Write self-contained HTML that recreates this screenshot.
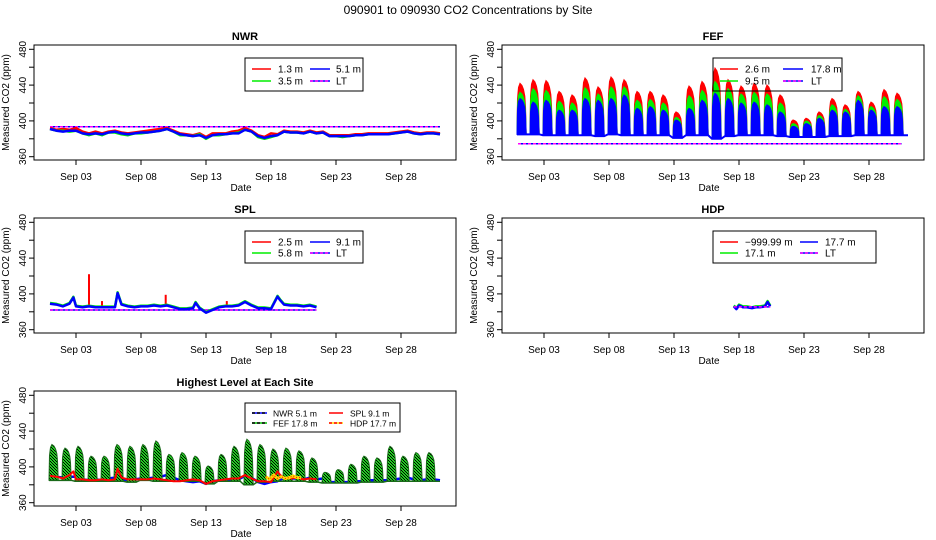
<!DOCTYPE html>
<html><head><meta charset="utf-8"><style>
html,body{margin:0;padding:0;background:#fff}
svg{display:block;font-family:"Liberation Sans",Arial,sans-serif}
</style></head><body>
<svg id="c" width="936" height="540" viewBox="0 0 936 540" xmlns="http://www.w3.org/2000/svg">
<defs>
<pattern id="chk" width="3" height="3" patternUnits="userSpaceOnUse"><rect width="3" height="3" fill="#22cc22"/><rect width="1" height="1" fill="#000"/><rect x="1" y="1" width="1" height="1" fill="#000"/><rect x="2" y="2" width="1" height="1" fill="#000"/></pattern>
</defs>
<text x="468" y="14" text-anchor="middle" font-size="12">090901  to  090930 CO2 Concentrations by Site</text>
</svg>
<script>
// ---------- data ----------
const tickDays=[3,8,13,18,23,28];
const tickLabels=["Sep 03","Sep 08","Sep 13","Sep 18","Sep 23","Sep 28"];
const yTicks=[360,380,400,420,440,460,480];
const yLabels=[360,400,440,480];
// NWR (daily values, day-of-month)
const nwrDays=[1,1.5,2,2.5,3,3.5,4,4.5,5,5.5,6,6.5,7,7.5,8,8.5,9,9.5,10,10.5,11,11.5,12,12.5,13,13.5,14,14.5,15,15.5,16,16.5,17,17.5,18,18.5,19,19.5,20,20.5,21,21.5,22,22.5,23,23.5,24,24.5,25,25.5,26,26.5,27,27.5,28,28.5,29,29.5,30,30.5,31];
const nwrBlue=[391,389,388,389,389,386,385,386,385,387,388,386,385,386,387,387,388,389,391,388,385,384,383,384,381,384,385,385,386,386,390,388,383,381,383,384,388,387,387,386,388,386,387,383,383,383,383,384,384,385,385,385,385,386,387,388,386,385,386,386,385];
const nwrRed=[392,390,391,390,392,388,386,388,386,388,389,387,386,387,388,389,390,391,392,389,386,385,384,386,382,386,386,386,388,389,392,389,384,382,386,385,389,388,388,387,389,387,388,384,384,384,384,385,385,386,386,386,386,387,388,389,387,386,387,387,386];
const nwrGreen=[391,389,389,388,389,386,384,386,384,387,387,385,384,386,386,387,388,389,391,388,384,384,383,385,380,384,384,385,386,387,390,388,382,380,382,384,388,387,387,386,388,386,387,383,383,382,383,384,384,385,385,385,385,386,387,388,386,385,386,386,385];
const nwrLT=393.5;
// FEF nightly cycle peaks (one per day), base level
const fefDays=[1,2,3,4,5,6,7,8,9,10,11,12,13,14,15,16,17,18,19,20,21,22,23,24,25,26,27,28,29,30];
const fefRed=[442,446,445,433,429,448,438,449,446,433,433,429,410,439,444,459,446,439,442,440,429,401,403,410,425,418,433,421,435,431];
const fefGreen=[432,436,434,422,420,437,430,438,438,423,424,420,404,428,434,444,436,430,432,430,420,397,400,406,418,413,428,416,427,424];
const fefBlue=[425,421,423,412,412,425,423,425,429,414,416,412,401,414,423,431,425,420,421,418,410,394,397,403,412,410,423,412,416,416];
const fefBase=[385,385,384,384,384,384,383,385,384,384,384,384,381,384,384,380,383,384,384,384,383,382,382,382,383,383,384,384,384,384];
const fefLT=374.5;
// SPL
const splDays=[1,1.5,2,2.5,2.8,3,3.5,4,4.5,5,5.5,6,6.2,6.5,7,7.5,8,8.5,9,9.5,10,10.5,11,11.5,12,12.2,12.5,13,13.5,14,14.5,15,15.5,16,16.5,17,17.5,18,18.5,18.7,19,19.5,20,20.5,21,21.5];
const splBlue=[389,388,386,389,396,386,385,386,385,385,385,385,401,388,386,385,386,386,387,386,387,385,383,383,384,390,384,379,382,385,386,386,387,391,387,384,384,383,397,393,388,387,387,386,387,385];
const splRedSpikeDays=[4.0,5.0,9.9,14.6];
const splRedSpikeVals=[422,392,399,392];
const splLT=382;
// HDP
const hdpDays=[17.6,17.8,18,18.3,18.6,19,19.3,19.6,20,20.2,20.4];
const hdpBlue=[386,383,387,385,385,384,385,385,386,391,386];
const hdpLT=385.5;
// highest-level SPL / HDP overlay series
const hiSplDays=[1,1.5,2,2.5,2.8,3,3.5,4,4.5,5,5.5,6,6.2,6.5,7,7.5,8,8.5,9,9.5,10,10.5,11,11.5,12,12.5,13,13.5,14,14.5,15,15.5,16,16.5,17,17.5,18,18.5,18.7,19,19.5,20,20.5,21,21.5];
const hiSplVals=[390,389,387,391,395,386,386,385,385,386,385,386,398,388,386,386,386,386,387,386,385,384,384,385,386,385,381,384,385,386,387,387,391,387,384,384,383,395,391,388,387,388,386,387,386];
const hiHdpDays=[17.6,17.9,18.2,18.5,18.8,19.1,19.4,19.7,20,20.3];
const hiHdpVals=[389,386,391,387,389,387,388,390,388,388];

// ---------- helpers ----------
const svg=document.getElementById('c');
const NS='http://www.w3.org/2000/svg';
function el(tag,attrs,parent){const e=document.createElementNS(NS,tag);for(const k in attrs)e.setAttribute(k,attrs[k]);(parent||svg).appendChild(e);return e;}
function panel(name,title,x0,row){
  const off=173*row;
  const p={x0:x0,x1:x0+422,top:45+off,bot:160+off,y480:49.3+off,y360:156.7+off};
  p.X=d=>p.x0+16+(d-1)*13;
  p.Y=v=>p.y480+(480-v)*(p.y360-p.y480)/120;
  const g=el('g',{});
  
  
  p.g=g;
  const t=el('text',{x:(p.x0+p.x1)/2,y:36+off+4,'text-anchor':'middle','font-size':'11','font-weight':'bold'},g);
  t.textContent=title;
  
  
  const box=el('rect',{x:p.x0,y:p.top,width:p.x1-p.x0,height:p.bot-p.top,fill:'none',stroke:'#000','stroke-width':1},g);
  
  
  yTicks.forEach(v=>{el('line',{x1:p.x0-5,x2:p.x0,y1:p.Y(v),y2:p.Y(v),stroke:'#000'},g);});
  yLabels.forEach(v=>{const tx=el('text',{x:0,y:0,'font-size':'10','text-anchor':'middle',transform:`translate(${p.x0-8},${p.Y(v)}) rotate(-90)`},g);tx.textContent=v;
    
    });
  tickDays.forEach((d,i)=>{el('line',{x1:p.X(d),x2:p.X(d),y1:p.bot,y2:p.bot+5,stroke:'#000'},g);
    const tx=el('text',{x:p.X(d),y:p.bot+20,'font-size':'10','text-anchor':'middle'},g);tx.textContent=tickLabels[i];
    
    });
  const xt=el('text',{x:(p.x0+p.x1)/2-4,y:p.bot+31,'font-size':'10','text-anchor':'middle'},g);xt.textContent='Date';
  
  
  const yt=el('text',{x:0,y:0,'font-size':'10','text-anchor':'middle',transform:`translate(${p.x0-25},${(p.top+p.bot)/2}) rotate(-90)`},g);yt.textContent='Measured CO2 (ppm)';
  
  
  p.clip=el('g',{},g);
  return p;
}
function line(p,days,vals,color,w,name,dash){
  const pts=days.map((d,i)=>p.X(d).toFixed(1)+','+p.Y(vals[i]).toFixed(1)).join(' ');
  const l=el('polyline',{points:pts,fill:'none',stroke:color,'stroke-width':w,'stroke-linejoin':'round'},p.clip);
  if(dash)l.setAttribute('stroke-dasharray',dash);
  
  
  return l;
}
function ltLine(p,d0,d1,v,name){
  const a=el('line',{x1:p.X(d0),x2:p.X(d1),y1:p.Y(v),y2:p.Y(v),stroke:'#0000ff','stroke-width':1.5},p.clip);
  
  
  const b=el('line',{x1:p.X(d0),x2:p.X(d1),y1:p.Y(v),y2:p.Y(v),stroke:'#ff00ff','stroke-width':1.5,'stroke-dasharray':'3,2'},p.clip);
  
  
}
function legend(p,name,bx,by,bw,bh,items,fs){
  const g=el('g',{},p.g);
  
  
  el('rect',{x:bx,y:by,width:bw,height:bh,fill:'none',stroke:'#000'},g);
  items.forEach(it=>{
    el('line',{x1:it.lx,x2:it.lx2,y1:it.y,y2:it.y,stroke:it.c,'stroke-width':1.5,'stroke-dasharray':it.dash||''},g);
    if(it.c2)el('line',{x1:it.lx,x2:it.lx2,y1:it.y,y2:it.y,stroke:it.c2,'stroke-width':1.5,'stroke-dasharray':'3,2'},g);
    const t=el('text',{x:it.tx,y:it.y+3.5,'font-size':fs||10},g);t.textContent=it.t;
    
    
  });
}
const cycleShape=[[-0.08,0],[-0.04,0.7],[0.04,0.92],[0.15,1],[0.3,0.96],[0.42,0.88],[0.52,0.75],[0.58,0.55],[0.63,0]];
function cyclePoly(p,i,peak,color,name,fill){
  const d=fefDays[i],b=fefBase[i];
  const pts=cycleShape.map(s=>p.X(d+s[0]).toFixed(1)+','+p.Y(b+(peak-b)*s[1]).toFixed(1)).join(' ');
  const pg=el('polygon',{points:pts,fill:fill||color,stroke:color,'stroke-width':1},p.clip);
  
  
}
function baseLine(p,color,name,w){
  const pts=[];
  fefDays.forEach((d,i)=>{pts.push(p.X(d-0.08)+','+p.Y(fefBase[i]));pts.push(p.X(d+0.63)+','+p.Y(fefBase[i]));});
  pts.push(p.X(31)+','+p.Y(fefBase[fefBase.length-1]));
  const l=el('polyline',{points:pts.join(' '),fill:'none',stroke:color,'stroke-width':w||2},p.clip);
  
  
}

// ---------- NWR ----------
const pN=panel('nwr','NWR',34,0);
ltLine(pN,1,31,nwrLT,'nwr-lt-line');
line(pN,nwrDays,nwrRed,'#ff0000',2.5,'nwr-1.3m-line');
line(pN,nwrDays,nwrGreen,'#00ee00',2.5,'nwr-3.5m-line');
line(pN,nwrDays,nwrBlue,'#0000ff',2.5,'nwr-5.1m-line');
legend(pN,'nwr-legend',245,58,118,33,[
 {lx:252,lx2:271,tx:278,y:69,c:'#ff0000',t:'1.3 m'},{lx:310,lx2:330,tx:336,y:69,c:'#0000ff',t:'5.1 m'},
 {lx:252,lx2:271,tx:278,y:81,c:'#00ee00',t:'3.5 m'},{lx:310,lx2:330,tx:336,y:81,c:'#0000ff',c2:'#ff00ff',t:'LT'}]);

// ---------- FEF ----------
const pF=panel('fef','FEF',502,0);
ltLine(pF,1,30.5,fefLT,'fef-lt-line');
fefDays.forEach((d,i)=>cyclePoly(pF,i,fefRed[i],'#ff0000','fef-2.6m-cycle'));
fefDays.forEach((d,i)=>cyclePoly(pF,i,fefGreen[i],'#00ee00','fef-9.5m-cycle'));
fefDays.forEach((d,i)=>cyclePoly(pF,i,fefBlue[i],'#0000ff','fef-17.8m-cycle'));
baseLine(pF,'#0000ff','fef-17.8m-base');
legend(pF,'fef-legend',713,58,129,33,[
 {lx:720,lx2:738,tx:745,y:69,c:'#ff0000',t:'2.6 m'},{lx:783,lx2:803,tx:811,y:69,c:'#0000ff',t:'17.8 m'},
 {lx:720,lx2:738,tx:745,y:81,c:'#00ee00',t:'9.5 m'},{lx:783,lx2:803,tx:811,y:81,c:'#0000ff',c2:'#ff00ff',t:'LT'}]);

// ---------- SPL ----------
const pS=panel('spl','SPL',34,1);
ltLine(pS,1,21.5,splLT,'spl-lt-line');
splRedSpikeDays.forEach((d,i)=>{const l=el('line',{x1:pS.X(d),x2:pS.X(d),y1:pS.Y(386),y2:pS.Y(splRedSpikeVals[i]),stroke:'#ff0000','stroke-width':2},pS.clip);
  
  });
line(pS,splDays,splBlue.map(v=>v+0.8),'#00ee00',2.5,'spl-5.8m-line');
line(pS,splDays,splBlue,'#0000ff',2.5,'spl-9.1m-line');
legend(pS,'spl-legend',245,231,118,32,[
 {lx:252,lx2:271,tx:278,y:242,c:'#ff0000',t:'2.5 m'},{lx:310,lx2:330,tx:336,y:242,c:'#0000ff',t:'9.1 m'},
 {lx:252,lx2:271,tx:278,y:253,c:'#00ee00',t:'5.8 m'},{lx:310,lx2:330,tx:336,y:253,c:'#0000ff',c2:'#ff00ff',t:'LT'}]);

// ---------- HDP ----------
const pH=panel('hdp','HDP',502,1);
line(pH,hdpDays,hdpBlue.map(v=>v+1),'#00ee00',2.5,'hdp-17.1m-line');
line(pH,hdpDays,hdpBlue,'#0000ff',2.5,'hdp-17.7m-line');
ltLine(pH,17.6,20.4,hdpLT,'hdp-lt-line');
legend(pH,'hdp-legend',713,231,163,32,[
 {lx:720,lx2:738,tx:745,y:242,c:'#ff0000',t:'\u2212999.99 m'},{lx:800,lx2:818,tx:825,y:242,c:'#0000ff',t:'17.7 m'},
 {lx:720,lx2:738,tx:745,y:253,c:'#00ee00',t:'17.1 m'},{lx:800,lx2:818,tx:825,y:253,c:'#0000ff',c2:'#ff00ff',t:'LT'}]);

// ---------- Highest ----------
const pA=panel('highest','Highest Level at Each Site',34,2);
line(pA,nwrDays,nwrBlue,'#0000ff',2.5,'highest-nwr-line');
fefDays.forEach((d,i)=>cyclePoly(pA,i,fefBlue[i],'#1a6a1a','highest-fef-cycle','url(#chk)'));
baseLine(pA,'#1a6a1a','highest-fef-base',1.5);
line(pA,hiSplDays,hiSplVals,'#ff0000',2,'highest-spl-line');
line(pA,hiHdpDays,hiHdpVals,'#ffdd00',3,'highest-hdp-line');
line(pA,hiHdpDays,hiHdpVals,'#ff0000',1,'highest-hdp-dots','1,2');
legend(pA,'highest-legend',245,403,155,29,[
 {lx:252,lx2:267,tx:273,y:413,c:'#0000ff',c2:'#000',t:'NWR  5.1 m'},{lx:329,lx2:343,tx:350,y:413,c:'#ff0000',t:'SPL  9.1 m'},
 {lx:252,lx2:267,tx:273,y:423,c:'#00c000',c2:'#000',t:'FEF  17.8 m'},{lx:329,lx2:343,tx:350,y:423,c:'#ffdd00',c2:'#ff0000',t:'HDP  17.7 m'}],8.5);
</script>
</body></html>
